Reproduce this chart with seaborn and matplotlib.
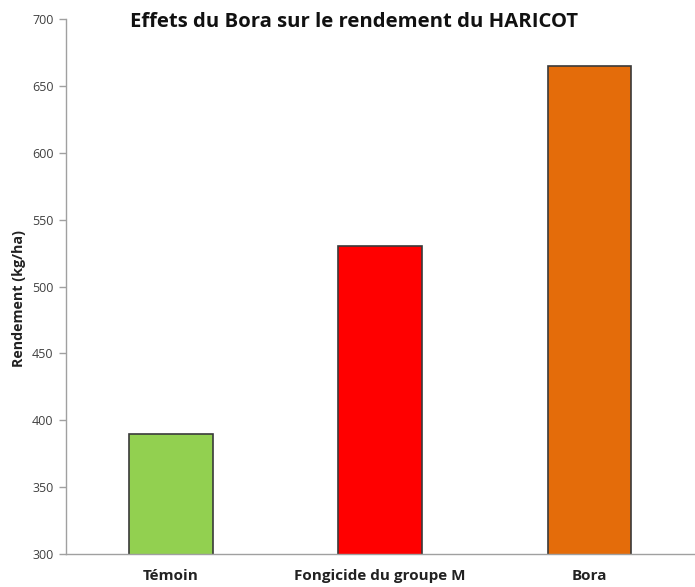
import matplotlib
matplotlib.use("Agg")
import matplotlib.pyplot as plt
import seaborn as sns
import pandas as pd

# données
traitements = ["Témoin", "Fongicide du groupe M", "Bora"]
rendements = [390, 530, 665]
couleurs = ["#92D050", "#FF0000", "#E46C0A"]
yticks = [300, 350, 400, 450, 500, 550, 600, 650, 700]

df = pd.DataFrame({"traitement": traitements, "rendement": rendements})

sns.set_style("white")
plt.rcParams["font.family"] = ["Open Sans", "DejaVu Sans"]

fig = plt.figure(figsize=(6.95, 5.87), dpi=100)
ax = fig.add_axes([0.095, 0.0562, 0.904, 0.9114])

sns.barplot(data=df, x="traitement", y="rendement", hue="traitement",
            palette=couleurs, saturation=1, width=0.4, edgecolor="#3a3a3a",
            linewidth=1.2, legend=False, ax=ax)

ax.set_ylim(300, 700)
ax.set_xlim(-0.5, 2.5)
ax.set_yticks(yticks)
ax.set_yticklabels([str(v) for v in yticks], fontsize=9, color="#404040")
ax.set_xticks(range(len(traitements)))
ax.set_xticklabels(traitements, fontsize=11, fontweight="bold", color="#222222")
ax.set_xticks([0.5, 1.5, 2.5], minor=True)
ax.tick_params(axis="x", which="major", length=0, pad=11)
ax.tick_params(axis="x", which="minor", length=5, color="#a0a0a0", width=1)
ax.tick_params(axis="y", length=5, color="#a0a0a0", width=1, left=True, pad=4)

for side in ["top", "right"]:
    ax.spines[side].set_visible(False)
for side in ["left", "bottom"]:
    ax.spines[side].set_color("#a0a0a0")
    ax.spines[side].set_linewidth(1)

ax.set_xlabel("")
ax.set_ylabel("Rendement (kg/ha)", fontsize=10.3, fontweight="bold", color="#222222")
ax.yaxis.set_label_coords(-0.064, 0.477)

fig.text(0.509, 0.962, "Effets du Bora sur le rendement du HARICOT",
         ha="center", va="center", fontsize=14.6, fontweight="bold", color="#111111")

fig.savefig("out.png", dpi=100)
